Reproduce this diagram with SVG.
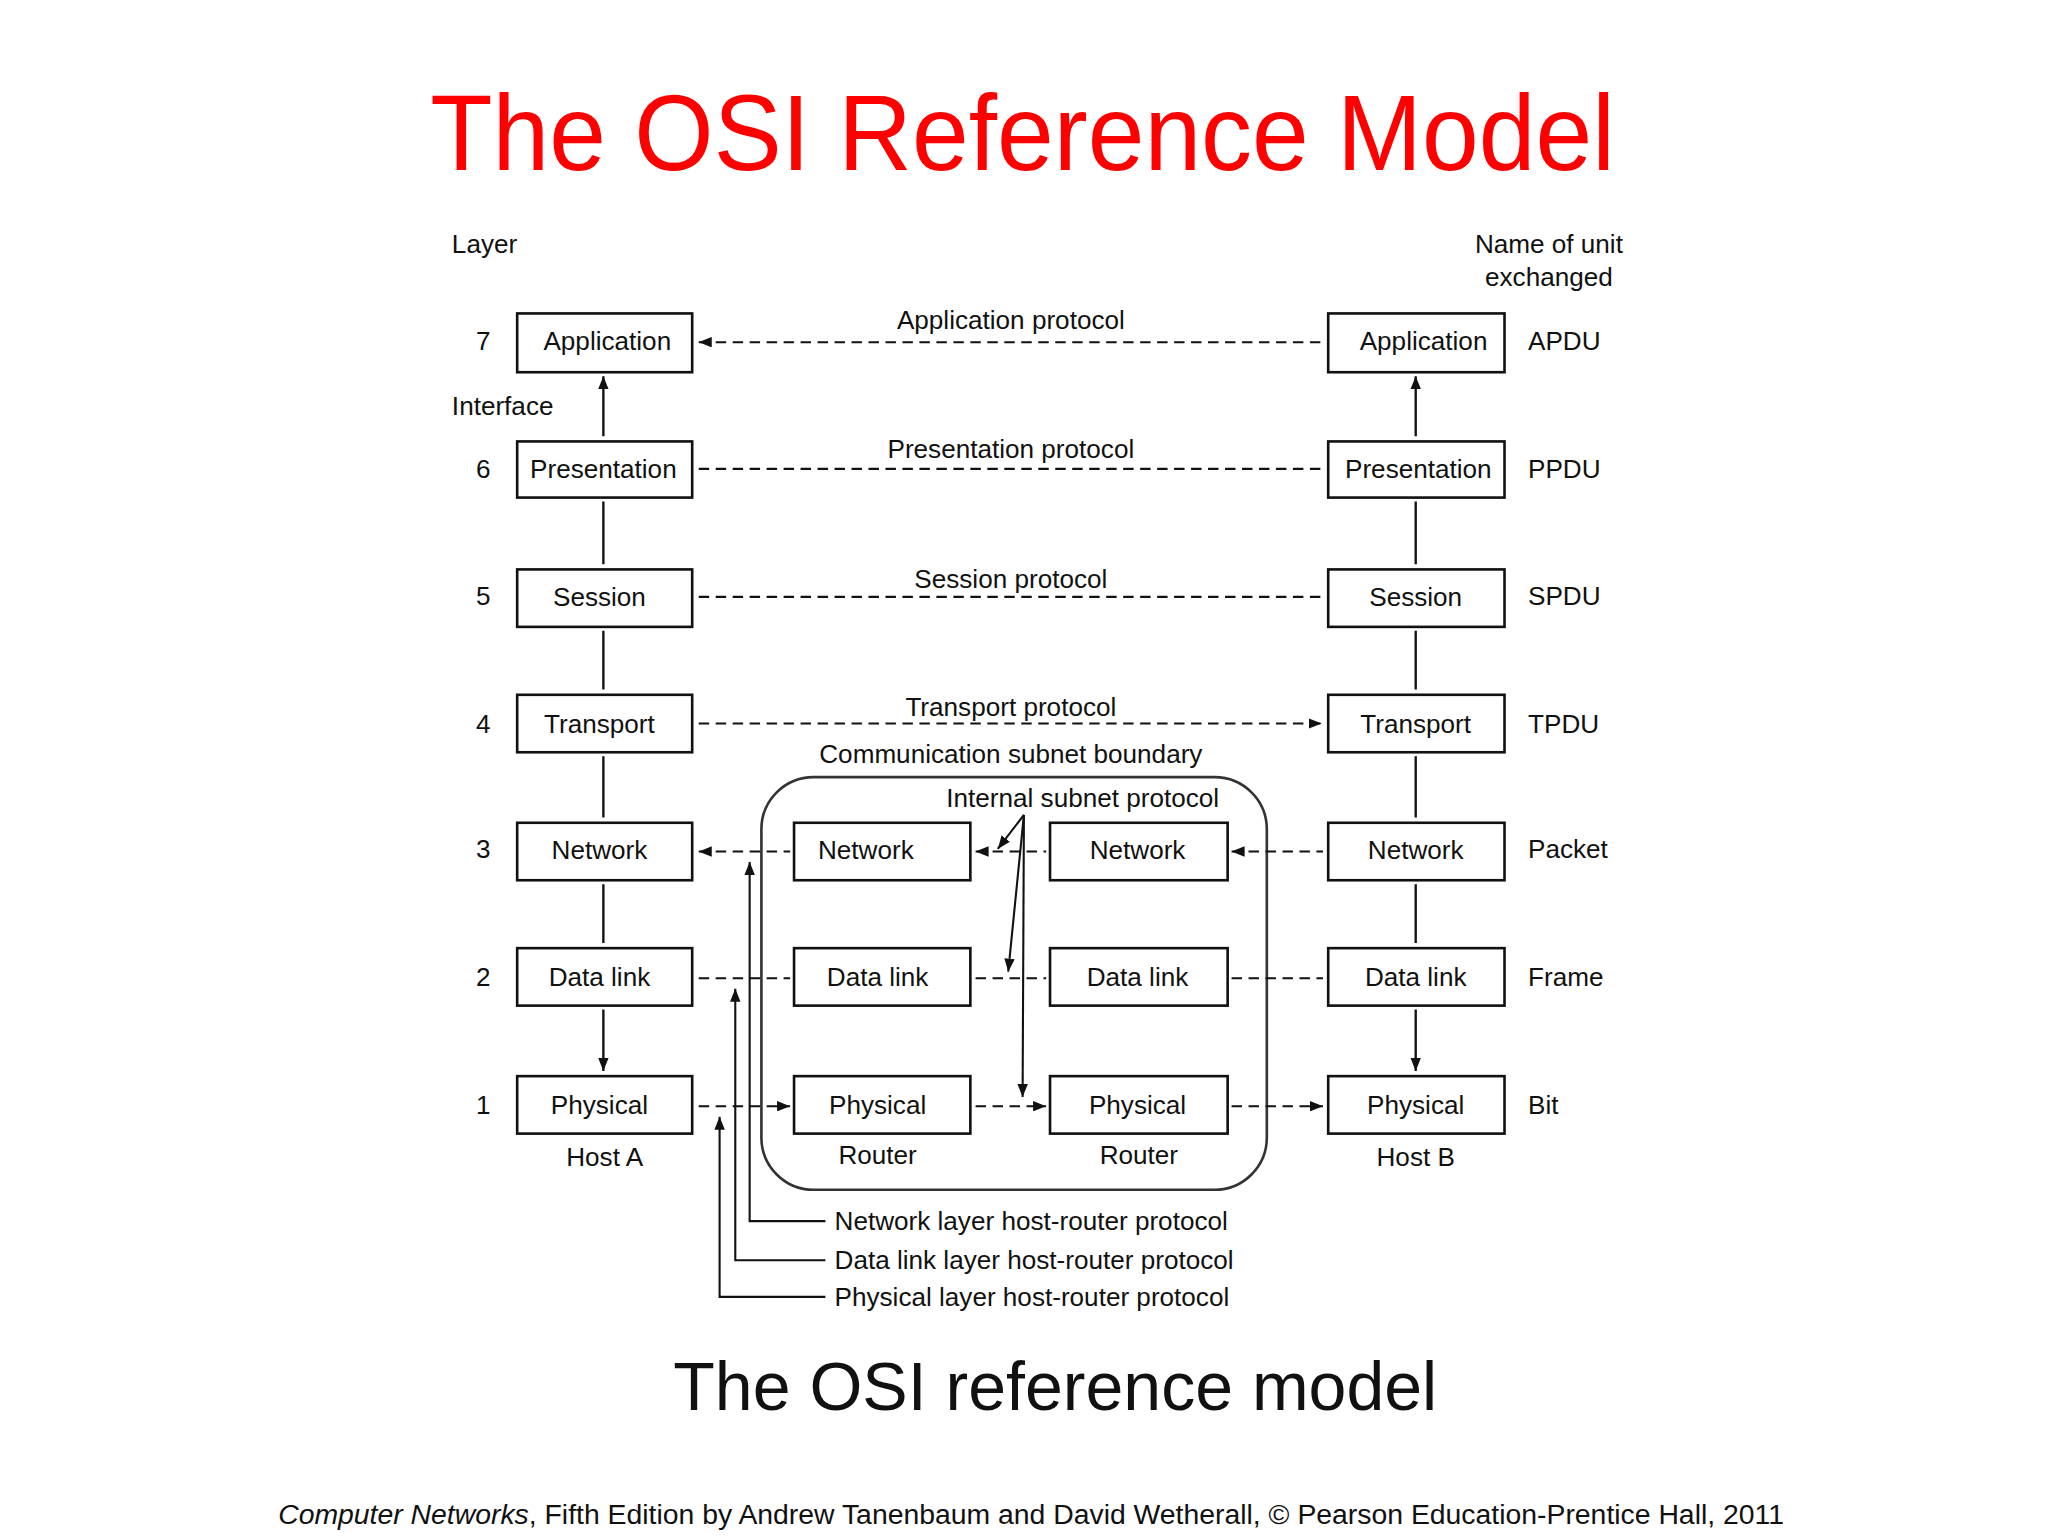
<svg xmlns="http://www.w3.org/2000/svg" width="2048" height="1536" viewBox="0 0 2048 1536">
<defs>
<style>
text{font-family:"Liberation Sans",Arial,sans-serif;fill:#111}
.lbl{font-size:20px}
.mid{text-anchor:middle}
.box rect{fill:#fff;stroke:#111;stroke-width:2}
.box text{font-size:20px;text-anchor:middle}
.dash{stroke:#111;stroke-width:1.6;stroke-dasharray:8 5;fill:none;marker-start:url(#as);marker-end:url(#ae)}
.sol{stroke:#111;stroke-width:1.8;fill:none;marker-start:url(#as);marker-end:url(#ae)}
.up{stroke:#111;stroke-width:1.6;fill:none;marker-end:url(#ae)}
</style>
<marker id="ae" viewBox="0 0 10 8" refX="10" refY="4" markerWidth="10" markerHeight="8" markerUnits="userSpaceOnUse" orient="auto"><path d="M0,0 L10,4 L0,8 z" fill="#111"/></marker>
<marker id="as" viewBox="0 0 10 8" refX="0" refY="4" markerWidth="10" markerHeight="8" markerUnits="userSpaceOnUse" orient="auto"><path d="M10,0 L0,4 L10,8 z" fill="#111"/></marker>
</defs>
<rect width="2048" height="1536" fill="#fff"/>
<g transform="scale(1.306)">
<text x="783" y="130" font-size="82" class="mid" style="fill:#f00" textLength="907" lengthAdjust="spacingAndGlyphs">The OSI Reference Model</text>
<text x="346" y="194" class="lbl">Layer</text>
<text x="346" y="318" class="lbl">Interface</text>
<text x="1186" y="194" class="lbl mid">Name of unit</text>
<text x="1186" y="219" class="lbl mid">exchanged</text>
<g class="lbl mid">
<text x="370" y="268">7</text><text x="370" y="366">6</text><text x="370" y="463">5</text><text x="370" y="561">4</text><text x="370" y="657">3</text><text x="370" y="755">2</text><text x="370" y="853">1</text>
</g>
<g class="lbl">
<text x="1170" y="268">APDU</text><text x="1170" y="366">PPDU</text><text x="1170" y="463">SPDU</text><text x="1170" y="561">TPDU</text><text x="1170" y="657">Packet</text><text x="1170" y="755">Frame</text><text x="1170" y="853">Bit</text>
</g>
<g id="subnet"><rect x="583" y="595" width="387" height="316" rx="40" fill="none" stroke="#333" stroke-width="2"/></g>
<g id="hostA-app" class="box"><rect x="396" y="240" width="134" height="45"/><text x="465" y="268">Application</text></g>
<g id="hostA-pres" class="box"><rect x="396" y="338" width="134" height="43"/><text x="462" y="366">Presentation</text></g>
<g id="hostA-sess" class="box"><rect x="396" y="436" width="134" height="44"/><text x="459" y="464">Session</text></g>
<g id="hostA-trans" class="box"><rect x="396" y="532" width="134" height="44"/><text x="459" y="561">Transport</text></g>
<g id="hostA-net" class="box"><rect x="396" y="630" width="134" height="44"/><text x="459" y="658">Network</text></g>
<g id="hostA-dl" class="box"><rect x="396" y="726" width="134" height="44"/><text x="459" y="755">Data link</text></g>
<g id="hostA-phys" class="box"><rect x="396" y="824" width="134" height="44"/><text x="459" y="853">Physical</text></g>
<g id="hostB-app" class="box"><rect x="1017" y="240" width="135" height="45"/><text x="1090" y="268">Application</text></g>
<g id="hostB-pres" class="box"><rect x="1017" y="338" width="135" height="43"/><text x="1086" y="366">Presentation</text></g>
<g id="hostB-sess" class="box"><rect x="1017" y="436" width="135" height="44"/><text x="1084" y="464">Session</text></g>
<g id="hostB-trans" class="box"><rect x="1017" y="532" width="135" height="44"/><text x="1084" y="561">Transport</text></g>
<g id="hostB-net" class="box"><rect x="1017" y="630" width="135" height="44"/><text x="1084" y="658">Network</text></g>
<g id="hostB-dl" class="box"><rect x="1017" y="726" width="135" height="44"/><text x="1084" y="755">Data link</text></g>
<g id="hostB-phys" class="box"><rect x="1017" y="824" width="135" height="44"/><text x="1084" y="853">Physical</text></g>
<g id="r1-net" class="box"><rect x="608" y="630" width="135" height="44"/><text x="663" y="658">Network</text></g>
<g id="r1-dl" class="box"><rect x="608" y="726" width="135" height="44"/><text x="672" y="755">Data link</text></g>
<g id="r1-phys" class="box"><rect x="608" y="824" width="135" height="44"/><text x="672" y="853">Physical</text></g>
<g id="r2-net" class="box"><rect x="804" y="630" width="136" height="44"/><text x="871" y="658">Network</text></g>
<g id="r2-dl" class="box"><rect x="804" y="726" width="136" height="44"/><text x="871" y="755">Data link</text></g>
<g id="r2-phys" class="box"><rect x="804" y="824" width="136" height="44"/><text x="871" y="853">Physical</text></g>
<g class="lbl mid">
<text x="463" y="893">Host A</text><text x="672" y="891">Router</text><text x="872" y="891">Router</text><text x="1084" y="893">Host B</text>
<text x="774" y="252">Application protocol</text>
<text x="774" y="351">Presentation protocol</text>
<text x="774" y="450">Session protocol</text>
<text x="774" y="548">Transport protocol</text>
<text x="774" y="584">Communication subnet boundary</text>
<text x="829" y="618">Internal subnet protocol</text>
</g>
<g class="lbl">
<text x="639" y="942">Network layer host-router protocol</text>
<text x="639" y="972">Data link layer host-router protocol</text>
<text x="639" y="1000">Physical layer host-router protocol</text>
</g>
<g id="connectors">
<path class="dash" d="M535,262H1012M535,359H1012M535,457H1012M535,554H1012"/>
<path class="dash" d="M535,652H605M535,749H605M535,847H605"/>
<path class="dash" d="M747,652H801M747,749H801M747,847H801"/>
<path class="dash" d="M943,652H1013M943,749H1013M943,847H1013"/>
<path class="sol" d="M462,288V334M462,384V432M462,483V528M462,579V626M462,677V722M462,773V820"/>
<path class="sol" d="M1084,288V334M1084,384V432M1084,483V528M1084,579V626M1084,677V722M1084,773V820"/>
<path class="up" d="M784,624L764,650"/>
<path class="up" d="M784,624L772,744"/>
<path class="up" d="M784,624L783,840"/>
<path class="up" d="M632,935H574V660"/>
<path class="up" d="M632,965H563V757"/>
<path class="up" d="M632,993H551V855"/>
</g>
<text x="808" y="1080" font-size="52" class="mid" textLength="585" lengthAdjust="spacingAndGlyphs">The OSI reference model</text>
<text x="213" y="1167" font-size="21" textLength="1153" lengthAdjust="spacingAndGlyphs"><tspan font-style="italic">Computer Networks</tspan>, Fifth Edition by Andrew Tanenbaum and David Wetherall, © Pearson Education-Prentice Hall, 2011</text>
</g>
</svg>
